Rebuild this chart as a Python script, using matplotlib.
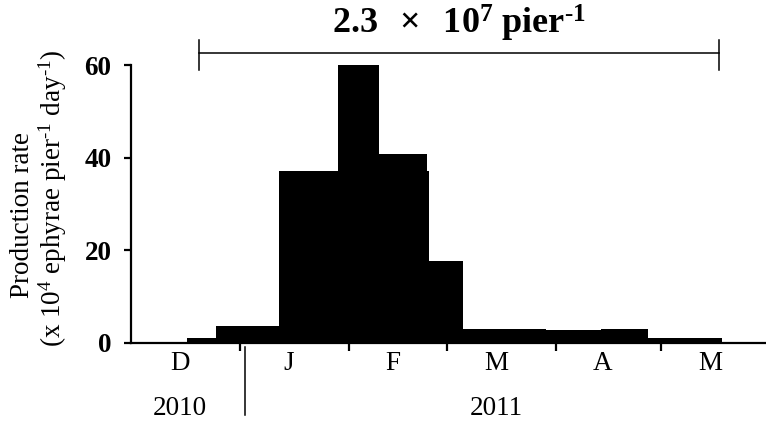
import numpy as np
import matplotlib
matplotlib.use("Agg")
import matplotlib.pyplot as plt
from matplotlib.transforms import blended_transform_factory

# x axis = days since 1 Dec 2010
edges = [0, 16, 24.1, 42.3, 59.1, 70.6, 84.4, 84.9, 94.7, 118.2, 134.1, 147.4, 168.5, 181]
rates = [0, 1.0, 3.7, 37.1, 60.0, 40.7, 37.1, 17.7, 3.1, 2.8, 3.1, 1.0, 0]
month_labels = ["D", "J", "F", "M", "A", "M"]
month_days = [31, 31, 28, 31, 30, 31]
years = ["2010", "2011"]
yticks = [0, 20, 40, 60]
total_text = r"$\mathbf{2.3\ \ \times\ \ 10^{7}\ pier^{\text{-}1}}$"
period = [19.4, 167.5]   # bracket span, days

plt.rcParams["font.family"] = ["Liberation Serif", "DejaVu Serif"]
plt.rcParams["mathtext.fontset"] = "custom"
plt.rcParams["mathtext.rm"] = "Liberation Serif"
plt.rcParams["mathtext.it"] = "Liberation Serif:italic"
plt.rcParams["mathtext.bf"] = "Liberation Serif:bold"

fig = plt.figure(figsize=(7.66, 4.23), dpi=100)
ax = fig.add_axes([131 / 766, 1 - 343 / 423, 635 / 766, 278 / 423])

ax.stairs(rates, edges, fill=True, color="black", linewidth=0)
ax.set_xlim(0, 181)
ax.set_ylim(0, 60)

for s in ["top", "right"]:
    ax.spines[s].set_visible(False)
ax.spines["left"].set_linewidth(1.6)
ax.spines["bottom"].set_linewidth(1.6)

bounds = np.cumsum(month_days)
ax.set_xticks(bounds[:-1])
ax.set_xticklabels([])
ax.tick_params(axis="x", direction="out", length=6, width=1.6)
ax.set_yticks(yticks)
ax.set_yticklabels([str(v) for v in yticks], fontsize=19.5, fontweight="bold")
ax.tick_params(axis="y", direction="out", length=5, width=1.6, pad=9)

tr = blended_transform_factory(ax.transData, ax.transAxes)
starts = np.concatenate([[0], bounds[:-1]])
centers = (starts + bounds) / 2 - 1.5
for xc, lab in zip(centers, month_labels):
    ax.text(xc, -0.072, lab, transform=tr, ha="center", va="center", fontsize=19.5)
ax.text(centers[0], -0.235, years[0], transform=tr, ha="center", va="center", fontsize=19.5)
ax.text(centers[3], -0.235, years[1], transform=tr, ha="center", va="center", fontsize=19.5)
ax.plot([32.5, 32.5], [-0.014, -0.259], transform=tr, color="black", lw=1.1, clip_on=False)

# total production bracket
ax.plot(period, [1.043, 1.043], transform=tr, color="black", lw=1.1, clip_on=False)
for xp in period:
    ax.plot([xp, xp], [0.982, 1.090], transform=tr, color="black", lw=1.1, clip_on=False)
ax.text(sum(period) / 2, 1.15, total_text, transform=tr, ha="center", va="center", fontsize=26)

fig.text(23 / 766, 1 - 215 / 423, "Production rate", rotation=90, ha="center", va="center", fontsize=19.5)
fig.text(53 / 766, 1 - 198 / 423, r"(x 10$^{4}$ ephyrae pier$^{\text{-}1}$ day$^{\text{-}1}$)",
         rotation=90, ha="center", va="center", fontsize=19.5)

fig.savefig("out.png", dpi=100)
